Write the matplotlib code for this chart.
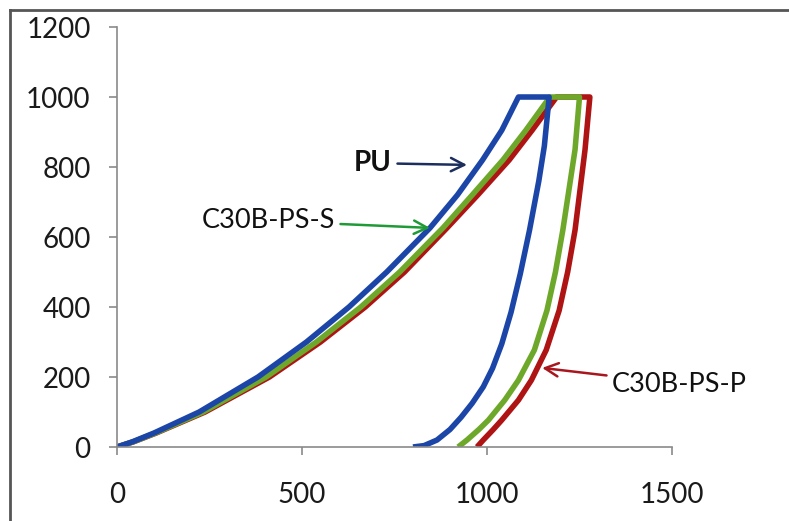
import matplotlib
matplotlib.use("Agg")
import matplotlib.pyplot as plt
from matplotlib.lines import Line2D

plt.rcParams['font.family'] = ['Lato', 'DejaVu Sans']

# ---- data ----
# PU : loading, hold at 1000, unloading
pu_x = [0, 42, 100, 222, 381, 512, 627, 729, 846, 920, 988, 1040, 1085,
        1168, 1155, 1140, 1115, 1090, 1065, 1040, 1015, 990, 960, 930, 900, 865, 830, 800]
pu_y = [0, 15, 40, 100, 200, 300, 400, 500, 626, 720, 820, 905, 1000,
        1000, 860, 760, 620, 495, 385, 295, 225, 172, 125, 85, 50, 20, 4, 0]

# C30B-PS-S
s_x = [0, 44, 104, 233, 403, 539, 659, 764, 881, 960, 1043, 1105, 1170,
       1250, 1238, 1205, 1185, 1162, 1128, 1085, 1048, 1004, 978, 946, 922]
s_y = [0, 15, 40, 100, 200, 300, 400, 500, 626, 720, 820, 905, 1000,
       1000, 850, 620, 500, 390, 277, 191, 134, 77, 50, 20, 0]

# C30B-PS-P
p_x = [0, 45, 106, 238, 412, 550, 671, 777, 892, 975, 1060, 1122, 1188,
       1278, 1265, 1238, 1218, 1195, 1160, 1120, 1085, 1040, 1017, 990, 973]
p_y = [0, 15, 40, 100, 200, 300, 400, 500, 626, 720, 820, 905, 1000,
       1000, 850, 620, 500, 390, 277, 191, 134, 77, 50, 20, 0]

x_ticks = [0, 500, 1000, 1500]
y_ticks = [0, 200, 400, 600, 800, 1000, 1200]

fig = plt.figure(figsize=(7.89, 5.21), dpi=100)
ax = fig.add_axes([117/789, 1 - 447/521, (672-117)/789, (447-27)/521])

lw = 4.0
ax.plot(p_x, p_y, color='#AE1414', lw=lw, solid_joinstyle='round', solid_capstyle='butt')
ax.plot(s_x, s_y, color='#6EA82A', lw=lw, solid_joinstyle='round', solid_capstyle='butt')
ax.plot(pu_x, pu_y, color='#1B46A8', lw=lw, solid_joinstyle='round', solid_capstyle='butt')

ax.set_xlim(0, 1500)
ax.set_ylim(0, 1200)
ax.set_xticks(x_ticks)
ax.set_yticks(y_ticks)
for s in ['top', 'right']:
    ax.spines[s].set_visible(False)
for s in ['left', 'bottom']:
    ax.spines[s].set_color('#8a8a8a')
    ax.spines[s].set_linewidth(1.2)
ax.tick_params(direction='out', length=6, width=1.2, color='#8a8a8a',
               labelsize=20, labelcolor='#1a1a1a')
ax.tick_params(axis='y', pad=13)
ax.tick_params(axis='x', pad=19)

# annotations
ax.annotate('PU', xy=(946, 806), xytext=(743, 811), ha='right', va='center',
            fontsize=20, fontweight='bold', color='#111111',
            arrowprops=dict(arrowstyle='->', color='#1C2E5E', lw=1.8,
                            mutation_scale=24, shrinkA=2, shrinkB=0))
ax.annotate('C30B-PS-S', xy=(846, 626), xytext=(589, 646), ha='right', va='center',
            fontsize=19.5, color='#111111',
            arrowprops=dict(arrowstyle='->', color='#1E9A36', lw=1.8,
                            mutation_scale=24, shrinkA=2, shrinkB=0))
ax.annotate('C30B-PS-P', xy=(1149, 226), xytext=(1338, 180), ha='left', va='center',
            fontsize=19.5, color='#111111', annotation_clip=False,
            arrowprops=dict(arrowstyle='->', color='#A8161E', lw=1.8,
                            mutation_scale=24, shrinkA=2, shrinkB=0))

# figure border (top and left visible)
fig.add_artist(Line2D([10/789, 10/789], [0, 1 - 10/521], transform=fig.transFigure,
                      color='#555555', lw=2))
fig.add_artist(Line2D([10/789, 1], [1 - 10/521, 1 - 10/521], transform=fig.transFigure,
                      color='#555555', lw=2))

fig.savefig('out.png', dpi=100)
